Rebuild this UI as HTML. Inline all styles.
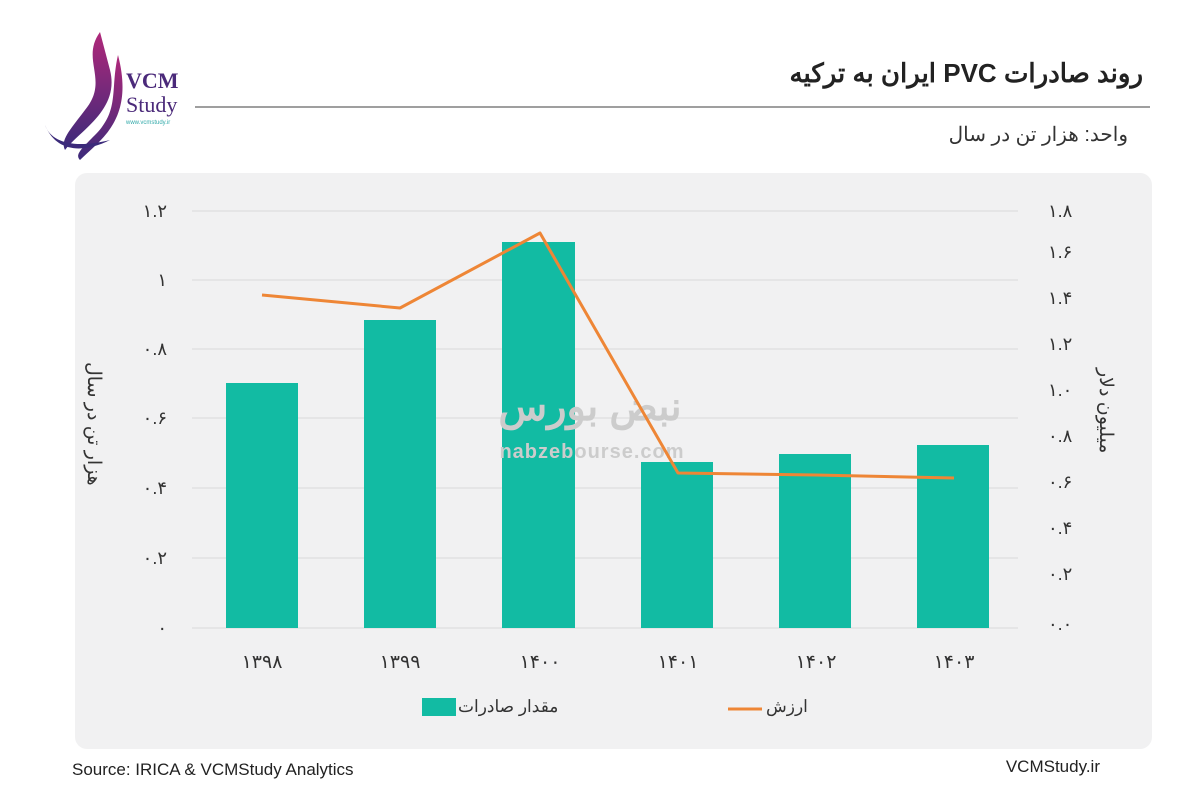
<!DOCTYPE html>
<html><head><meta charset="utf-8"><style>
body{margin:0;width:1200px;height:800px;background:#fff;font-family:"Liberation Sans","Noto Sans CJK SC",sans-serif;position:relative;overflow:hidden}
.t{position:absolute;white-space:nowrap}
.v{position:absolute;writing-mode:vertical-rl;font-size:19px;color:#333;white-space:nowrap}
</style></head><body>
<svg width="1200" height="800" style="position:absolute;left:0;top:0">
<defs><linearGradient id="g" x1="0" y1="0" x2="0" y2="1"><stop offset="0" stop-color="#b0287a"/><stop offset="1" stop-color="#3b2a7a"/></linearGradient></defs>
<path d="M100 32 C80 60 110 80 85 110 C70 130 60 140 65 150 C80 130 120 110 110 70 Z" fill="url(#g)"/>
<path d="M118 55 C110 90 120 110 95 135 C80 150 75 155 80 160 C100 140 135 120 118 55 Z" fill="url(#g)"/>
<path d="M45 125 C50 140 70 150 110 140 C80 155 55 150 45 125 Z" fill="#3b2a7a"/>
<text x="126" y="88" font-family="Liberation Serif" font-size="22" font-weight="bold" fill="#4b2a7a">VCM</text>
<text x="126" y="112" font-family="Liberation Serif" font-size="22" fill="#4b2a7a">Study</text>
<text x="126" y="124" font-size="6" fill="#3aa">www.vcmstudy.ir</text>
<line x1="195" y1="107" x2="1150" y2="107" stroke="#666" stroke-width="1.2"/>
<rect x="75" y="173" width="1077" height="576" rx="12" fill="#f1f1f2"/>
<g stroke="#d9d9d9" stroke-width="1">
<line x1="192" y1="211" x2="1018" y2="211"/><line x1="192" y1="280" x2="1018" y2="280"/><line x1="192" y1="349" x2="1018" y2="349"/><line x1="192" y1="418" x2="1018" y2="418"/><line x1="192" y1="488" x2="1018" y2="488"/><line x1="192" y1="558" x2="1018" y2="558"/><line x1="192" y1="628" x2="1018" y2="628"/></g>
<g fill="#12bba3">
<rect x="226" y="383" width="72" height="245"/><rect x="364" y="320" width="72" height="308"/><rect x="502" y="242" width="73" height="386"/><rect x="641" y="462" width="72" height="166"/><rect x="779" y="454" width="72" height="174"/><rect x="917" y="445" width="72" height="183"/></g>
<text x="590" y="420" font-size="40" font-weight="bold" fill="#ccc" text-anchor="middle">نبض بورس</text>
<text x="592" y="458" font-size="20" font-weight="bold" fill="#ccc" text-anchor="middle" letter-spacing="1">nabzebourse.com</text>
<polyline points="262,295 400,308 540,233 678,473 816,475 954,478" fill="none" stroke="#ee8636" stroke-width="3" stroke-linejoin="round"/>
<g font-size="18" fill="#333" text-anchor="end">
<text x="167" y="217">۱.۲</text><text x="167" y="286">۱</text><text x="167" y="355">۰.۸</text><text x="167" y="424">۰.۶</text><text x="167" y="494">۰.۴</text><text x="167" y="564">۰.۲</text><text x="167" y="634">۰</text></g>
<g font-size="18" fill="#333">
<text x="1048" y="217">۱.۸</text><text x="1048" y="258">۱.۶</text><text x="1048" y="304">۱.۴</text><text x="1048" y="350">۱.۲</text><text x="1048" y="396">۱.۰</text><text x="1048" y="442">۰.۸</text><text x="1048" y="488">۰.۶</text><text x="1048" y="534">۰.۴</text><text x="1048" y="580">۰.۲</text><text x="1048" y="630">۰.۰</text></g>
<g font-size="19" fill="#333" text-anchor="middle">
<text x="262" y="668">۱۳۹۸</text><text x="400" y="668">۱۳۹۹</text><text x="540" y="668">۱۴۰۰</text><text x="678" y="668">۱۴۰۱</text><text x="816" y="668">۱۴۰۲</text><text x="954" y="668">۱۴۰۳</text></g>
<rect x="422" y="698" width="34" height="18" fill="#12bba3"/>
<text x="458" y="712" font-size="17" fill="#333">مقدار صادرات</text>
<line x1="728" y1="709" x2="762" y2="709" stroke="#ee8636" stroke-width="3"/>
<text x="766" y="712" font-size="17" fill="#333">ارزش</text>
</svg>
<div class="v" style="left:82px;top:362px">هزار تن در سال</div>
<div class="v" style="left:1094px;top:368px">میلیون دلار</div>
<div class="t" style="right:57px;top:58px;font-size:26px;font-weight:bold;color:#222;direction:rtl">روند صادرات PVC ایران به ترکیه</div>
<div class="t" style="right:72px;top:122px;font-size:20px;color:#333;direction:rtl">واحد: هزار تن در سال</div>
<div class="t" style="left:72px;top:760px;font-size:17px;color:#222">Source: IRICA &amp; VCMStudy Analytics</div>
<div class="t" style="right:100px;top:757px;font-size:17px;color:#222">VCMStudy.ir</div>
</body></html>
